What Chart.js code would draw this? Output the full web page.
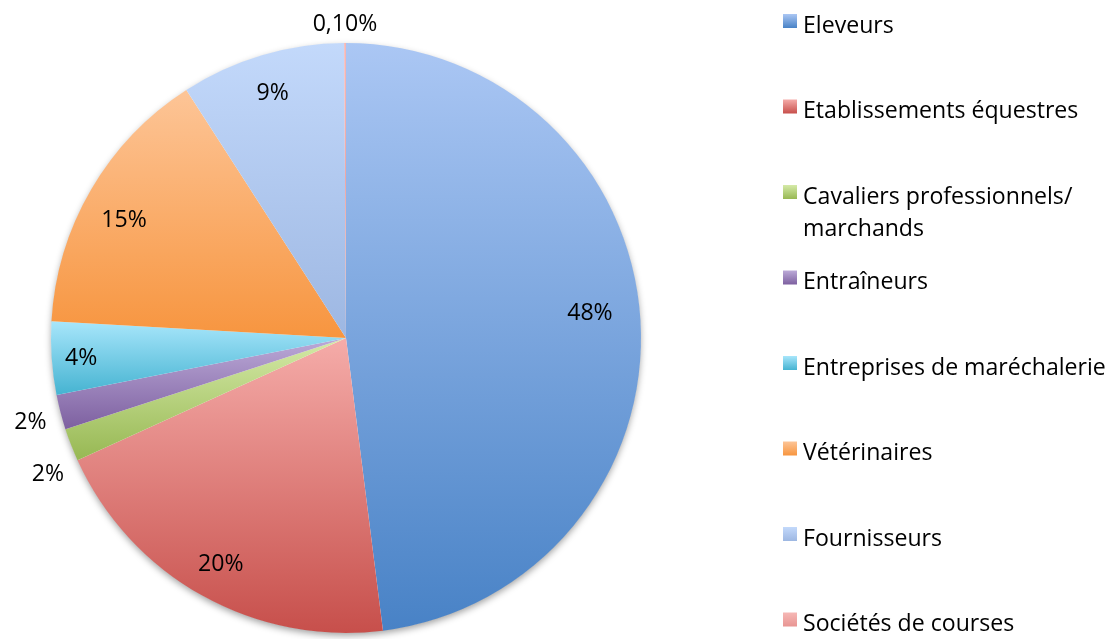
<!DOCTYPE html>
<html>
<head>
<meta charset="utf-8">
<script src="https://cdn.jsdelivr.net/npm/chart.js@4/dist/chart.umd.min.js"></script>
<style>
  html, body { margin: 0; padding: 0; background: #ffffff; }
  #wrap { width: 1113px; height: 639px; position: relative; }
</style>
</head>
<body>
<div id="wrap"><canvas id="c" width="1113" height="639"></canvas></div>
<script>
// ---- Data ----
const categories = [
  'Eleveurs',
  'Etablissements équestres',
  ['Cavaliers professionnels/', 'marchands'],
  'Entraîneurs',
  'Entreprises de maréchalerie',
  'Vétérinaires',
  'Fournisseurs',
  'Sociétés de courses'
];
const shares = [48, 20.2, 1.8, 1.9, 4.0, 15.0, 9.0, 0.1];
const shareLabels = ['48%', '20%', '2%', '2%', '4%', '15%', '9%', '0,10%'];

// ---- Styles ----
const topColors    = ['#abc7f4', '#f5aca9', '#d5eaa8', '#bcaad8', '#a8e6fb', '#fdc597', '#c3d9fb', '#f6b8b6'];
const bottomColors = ['#4882c6', '#c74f4b', '#97b853', '#7d60a0', '#45b3d1', '#f7953f', '#9db7e2', '#e89592'];
// label placement: radial factor and angle nudge (degrees)
const labelRadius = [0.832, 0.871, 1.108, 1.105, 0.90, 0.854, 0.871, 1.071];
const labelNudge  = [-2.7, 0, -3, 0, 0, -2, 0, 0];

const FONT = '"Open Sans", Lato, "Liberation Sans", sans-serif';
const total = shares.reduce((a, b) => a + b, 0);

// fit font size so the widest single legend line matches the reference width (~275px)
let fontSize = 22;
(function fit() {
  const m = document.createElement('canvas').getContext('2d');
  m.font = '22px ' + FONT;
  const w = m.measureText('Etablissements équestres').width;
  fontSize = Math.round(22 * 275 / w * 10) / 10;
})();

function sliceAngles(i) {
  let before = 0;
  for (let k = 0; k < i; k++) before += shares[k];
  const s = before / total * Math.PI * 2;
  const e = (before + shares[i]) / total * Math.PI * 2;
  return [s, e];
}

function sliceGradient(ctx) {
  const chart = ctx.chart;
  const area = chart.chartArea;
  const i = ctx.dataIndex;
  if (!area) return bottomColors[i];
  const cx = (area.left + area.right) / 2;
  const cy = (area.top + area.bottom) / 2;
  const r = Math.min(area.width, area.height) / 2;
  const [s, e] = sliceAngles(i);
  const ys = [cy, cy - r * Math.cos(s), cy - r * Math.cos(e)];
  if (s <= 1e-9) ys.push(cy - r);
  if (s <= Math.PI && e >= Math.PI) ys.push(cy + r);
  const minY = Math.min(...ys), maxY = Math.max(...ys);
  const g = chart.ctx.createLinearGradient(0, minY, 0, maxY + 0.01);
  g.addColorStop(0, topColors[i]);
  g.addColorStop(1, bottomColors[i]);
  return g;
}

const shadowPlugin = {
  id: 'pieShadow',
  beforeDatasetsDraw(chart) {
    const arc = chart.getDatasetMeta(0).data[0];
    if (!arc) return;
    const c = chart.ctx;
    c.save();
    c.shadowColor = 'rgba(0,0,0,0.38)';
    c.shadowBlur = 7;
    c.shadowOffsetX = 0;
    c.shadowOffsetY = 3;
    c.fillStyle = '#ffffff';
    c.beginPath();
    c.arc(arc.x, arc.y, arc.outerRadius - 0.5, 0, Math.PI * 2);
    c.fill();
    c.restore();
  }
};

const labelPlugin = {
  id: 'pieLabels',
  afterDatasetsDraw(chart) {
    const meta = chart.getDatasetMeta(0);
    const c = chart.ctx;
    c.save();
    c.font = fontSize + 'px ' + FONT;
    c.fillStyle = '#000000';
    c.textAlign = 'center';
    c.textBaseline = 'middle';
    meta.data.forEach((arc, i) => {
      const mid = (arc.startAngle + arc.endAngle) / 2 + labelNudge[i] * Math.PI / 180;
      const r = arc.outerRadius * labelRadius[i];
      const x = arc.x + r * Math.cos(mid);
      const y = arc.y + r * Math.sin(mid) + 2;
      c.fillText(shareLabels[i], x, y);
    });
    c.restore();
  }
};

const legendPlugin = {
  id: 'sideLegend',
  afterDraw(chart) {
    const c = chart.ctx;
    const x0 = 783, textX = 803, firstMid = 24, step = 85.5, lineH = 32, box = 14;
    c.save();
    c.font = fontSize + 'px ' + FONT;
    c.fillStyle = '#000000';
    c.textAlign = 'left';
    c.textBaseline = 'middle';
    categories.forEach((cat, i) => {
      const my = firstMid + step * i;
      const g = c.createLinearGradient(0, my - 10, 0, my - 10 + box);
      g.addColorStop(0, topColors[i]);
      g.addColorStop(1, bottomColors[i]);
      c.fillStyle = g;
      c.fillRect(x0, my - 10, box, box);
      c.fillStyle = '#000000';
      const lines = Array.isArray(cat) ? cat : [cat];
      lines.forEach((ln, k) => c.fillText(ln, textX, my + 2 + k * lineH));
    });
    c.restore();
  }
};

new Chart(document.getElementById('c'), {
  type: 'pie',
  data: {
    labels: categories.map(l => Array.isArray(l) ? l.join(' ') : l),
    datasets: [{
      data: shares,
      backgroundColor: sliceGradient,
      borderWidth: 0,
      hoverOffset: 0
    }]
  },
  options: {
    responsive: false,
    animation: false,
    layout: { padding: { left: 51, top: 43, right: 472, bottom: 6 } },
    plugins: {
      legend: { display: false },
      tooltip: { enabled: false }
    }
  },
  plugins: [shadowPlugin, labelPlugin, legendPlugin]
});
</script>
</body>
</html>
